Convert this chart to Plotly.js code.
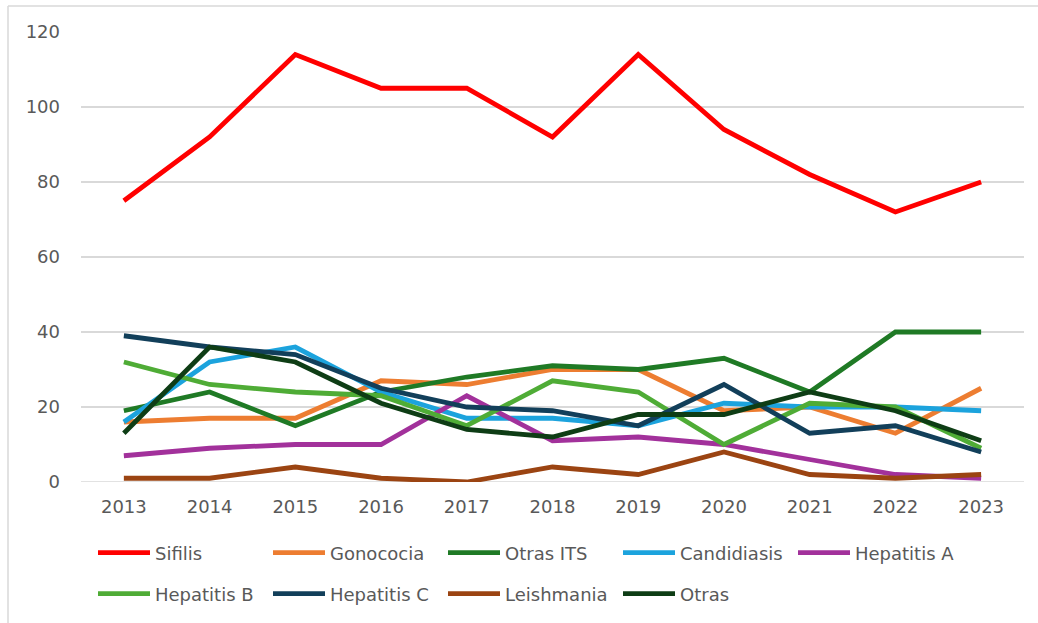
<!DOCTYPE html>
<html>
<head>
<meta charset="utf-8">
<script src="https://cdn.plot.ly/plotly-3.0.1.min.js"></script>
<style>html,body{margin:0;padding:0;background:#fff;}#chart{width:1038px;height:623px;}</style>
</head>
<body>
<div id="chart"></div>
<script>
const years = ['2013','2014','2015','2016','2017','2018','2019','2020','2021','2022','2023'];
const seriesNames = ['Sifilis','Gonococia','Otras ITS','Candidiasis','Hepatitis A','Hepatitis B','Hepatitis C','Leishmania','Otras'];
const sifilis     = [75, 92, 114, 105, 105, 92, 114, 94, 82, 72, 80];
const gonococia   = [16, 17, 17, 27, 26, 30, 30, 19, 20, 13, 25];
const otrasITS    = [19, 24, 15, 24, 28, 31, 30, 33, 24, 40, 40];
const candidiasis = [16, 32, 36, 24, 17, 17, 15, 21, 20, 20, 19];
const hepatitisA  = [7, 9, 10, 10, 23, 11, 12, 10, 6, 2, 1];
const hepatitisB  = [32, 26, 24, 23, 15, 27, 24, 10, 21, 20, 9];
const hepatitisC  = [39, 36, 34, 25, 20, 19, 15, 26, 13, 15, 8];
const leishmania  = [1, 1, 4, 1, 0, 4, 2, 8, 2, 1, 2];
const otras       = [13, 36, 32, 21, 14, 12, 18, 18, 24, 19, 11];
const yTicks = [0, 20, 40, 60, 80, 100, 120];

const values = [sifilis, gonococia, otrasITS, candidiasis, hepatitisA, hepatitisB, hepatitisC, leishmania, otras];
const colors = ['#ff0000','#ed7d31','#1f7a25','#1ca3dd','#a2319b','#4fac36','#123f5a','#9b4412','#0e3d15'];

const traces = seriesNames.map((n, i) => ({
  type: 'scatter', mode: 'lines', name: n, x: years, y: values[i],
  line: {color: colors[i], width: 4.8},
  legend: i < 5 ? 'legend' : 'legend2'
}));

const W = 1038, H = 623, ml = 81, mr = 14, mt = 32, mb = 141;
const pw = W - ml - mr, ph = H - mt - mb;
function px(x){return (x - ml)/pw;}
function py(y){return (H - mb - y)/ph;}

const legendBase = {
  orientation: 'h', xanchor: 'left', yanchor: 'middle', yref: 'container',
  entrywidth: 108, entrywidthmode: 'pixels', itemwidth: 52,
  bgcolor: 'rgba(0,0,0,0)',
  font: {size: 18, color: '#595959'}, traceorder: 'normal'
};

const layout = {
  width: W, height: H,
  margin: {l: ml, r: mr, t: mt, b: mb},
  paper_bgcolor: '#fff', plot_bgcolor: '#fff',
  font: {family: '"DejaVu Sans", sans-serif', size: 18, color: '#595959'},
  showlegend: true,
  legend: Object.assign({}, legendBase, {x: px(93), y: 1 - 553 / H}),
  legend2: Object.assign({}, legendBase, {x: px(93), y: 1 - 594 / H}),
  xaxis: {
    type: 'category', range: [-0.5, 10.5], showgrid: false, zeroline: false,
    showline: false, ticks: '', tickfont: {size: 18, color: '#595959'},
    ticklabelstandoff: 12, fixedrange: true, automargin: false
  },
  yaxis: {
    range: [0, 120], tickvals: yTicks, showgrid: true, gridcolor: '#d9d9d9', gridwidth: 1.5,
    zeroline: false, showline: false, ticks: '', tickfont: {size: 18, color: '#595959'},
    ticklabelstandoff: 20, fixedrange: true, automargin: false
  },
  shapes: [{
    type: 'line', xref: 'paper', yref: 'paper',
    x0: px(8), x1: px(1038), y0: py(6), y1: py(6),
    line: {color: '#d9d9d9', width: 1.5}, layer: 'below'
  }, {
    type: 'line', xref: 'paper', yref: 'paper',
    x0: px(8), x1: px(8), y0: py(6), y1: py(623),
    line: {color: '#d9d9d9', width: 1.5}, layer: 'below'
  }, {
    type: 'line', xref: 'paper', yref: 'y', x0: 0, x1: 1, y0: 0, y1: 0,
    line: {color: '#d9d9d9', width: 1.5}, layer: 'below'
  }]
};

Plotly.newPlot('chart', traces, layout, {displayModeBar: false, staticPlot: true});
</script>
</body>
</html>
